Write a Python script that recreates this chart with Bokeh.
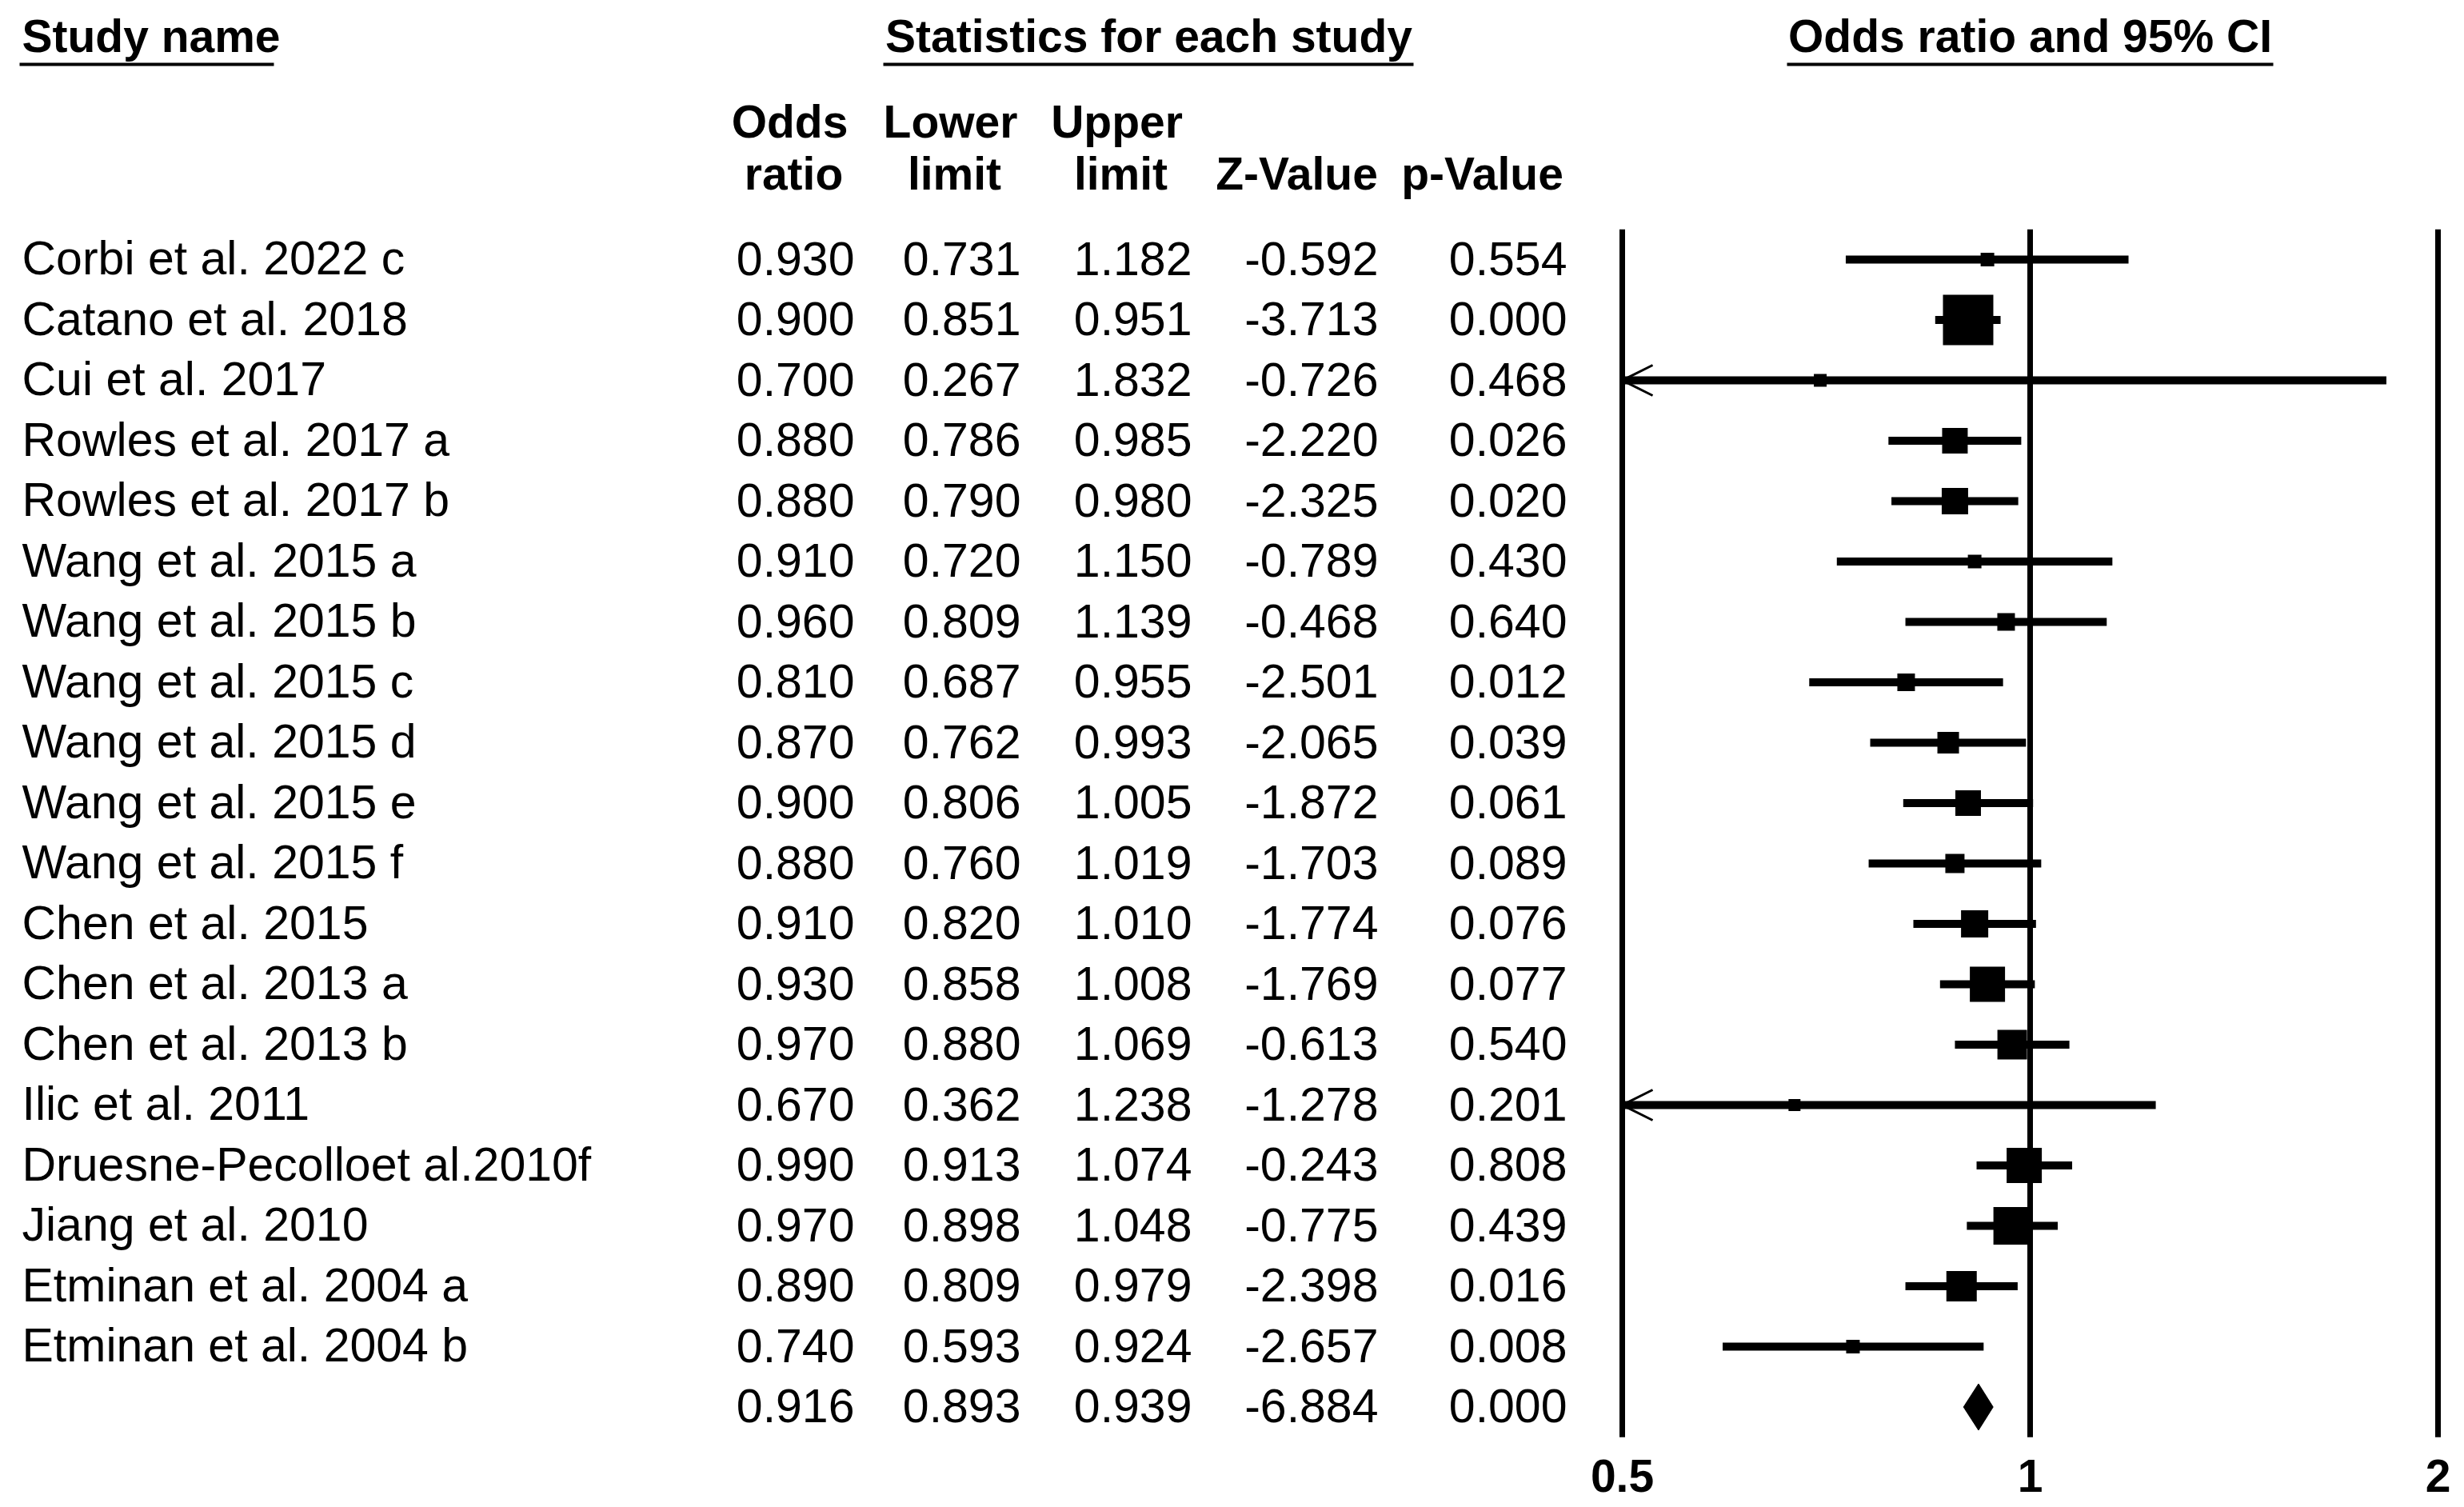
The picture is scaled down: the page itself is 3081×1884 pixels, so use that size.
import math
from bokeh.plotting import figure
from bokeh.models import (Range1d, LogScale, LogAxis, FixedTicker, CustomJSTickFormatter,
                          ColumnDataSource, Arrow, OpenHead)
from bokeh.core.properties import value
from bokeh.embed import file_html
from bokeh.resources import INLINE

# ---------------- data ----------------
studies = [
    "Corbi et al. 2022 c", "Catano et al. 2018", "Cui et al. 2017",
    "Rowles et al. 2017 a", "Rowles et al. 2017 b",
    "Wang et al. 2015 a", "Wang et al. 2015 b", "Wang et al. 2015 c",
    "Wang et al. 2015 d", "Wang et al. 2015 e", "Wang et al. 2015 f",
    "Chen et al. 2015", "Chen et al. 2013 a", "Chen et al. 2013 b",
    "Ilic et al. 2011", "Druesne-Pecolloet al.2010f", "Jiang et al. 2010",
    "Etminan et al. 2004 a", "Etminan et al. 2004 b",
]
odds_ratio = [0.930, 0.900, 0.700, 0.880, 0.880, 0.910, 0.960, 0.810, 0.870, 0.900,
              0.880, 0.910, 0.930, 0.970, 0.670, 0.990, 0.970, 0.890, 0.740]
lower = [0.731, 0.851, 0.267, 0.786, 0.790, 0.720, 0.809, 0.687, 0.762, 0.806,
         0.760, 0.820, 0.858, 0.880, 0.362, 0.913, 0.898, 0.809, 0.593]
upper = [1.182, 0.951, 1.832, 0.985, 0.980, 1.150, 1.139, 0.955, 0.993, 1.005,
         1.019, 1.010, 1.008, 1.069, 1.238, 1.074, 1.048, 0.979, 0.924]
z_value = [-0.592, -3.713, -0.726, -2.220, -2.325, -0.789, -0.468, -2.501, -2.065, -1.872,
           -1.703, -1.774, -1.769, -0.613, -1.278, -0.243, -0.775, -2.398, -2.657]
p_value = [0.554, 0.000, 0.468, 0.026, 0.020, 0.430, 0.640, 0.012, 0.039, 0.061,
           0.089, 0.076, 0.077, 0.540, 0.201, 0.808, 0.439, 0.016, 0.008]
# relative weight (%)
weight_pct = [1.39, 19.11, 1.23, 4.93, 5.24, 1.39, 2.33, 2.33, 3.51, 4.93,
              2.77, 5.57, 9.32, 6.59, 1.08, 9.32, 10.64, 6.95, 1.39]
summary_or, summary_lower, summary_upper = 0.916, 0.893, 0.939
summary_z, summary_p = -6.884, 0.000
axis_ticks = [0.5, 1, 2]

# ---------------- layout ----------------
W, H = 3073, 1876
BOTTOM_BORDER = 76
ROW0_PX, ROW_PX = 324.0, 75.5          # screen position of row 0 and row pitch
FRAME_TOP_PX = 0
FRAME_BOT_PX = H - BOTTOM_BORDER
X_HALF_PX, X_TWO_PX = 2028.0, 3048.0   # where 0.5 and 2 sit
PX_PER_LOG2 = (X_TWO_PX - X_HALF_PX) / 2.0

def ry(px):
    return (px - ROW0_PX) / ROW_PX

FONT = value("Liberation Sans")
REG = "59px"
BOLD = "57px"
TXT_OFF = -1.5 / ROW_PX

n = len(studies)
rows = list(range(n))
sum_row = n

or_start = 2 ** (math.log2(0.5) + (0 - X_HALF_PX) / PX_PER_LOG2)
or_end = 2 ** (math.log2(2.0) + (W - X_TWO_PX) / PX_PER_LOG2)

p = figure(width=W, height=H, output_backend="svg", toolbar_location=None,
           x_range=Range1d(0, W),
           y_range=Range1d(ry(FRAME_BOT_PX), ry(FRAME_TOP_PX)),
           x_axis_location=None, y_axis_location=None,
           min_border_left=0, min_border_right=0, min_border_top=0,
           min_border_bottom=BOTTOM_BORDER)
p.extra_x_ranges = {"or": Range1d(or_start, or_end)}
p.extra_x_scales = {"or": LogScale()}
p.grid.visible = False
p.outline_line_color = None
p.background_fill_color = "white"
p.border_fill_color = "white"

# ---------------- headers ----------------
hdr = dict(text_font=FONT, text_font_size=BOLD, text_font_style="bold",
           text_color="black", text_baseline="alphabetic")
p.text(x=[27], y=[ry(46) + TXT_OFF], text=["Study name"], text_align="left", **hdr)
p.text(x=[1436], y=[ry(46) + TXT_OFF], text=["Statistics for each study"],
       text_align="center", **hdr)
p.text(x=[1], y=[ry(46) + TXT_OFF], text=["Odds ratio and 95% CI"], text_align="center",
       x_range_name="or", **hdr)
p.segment(x0=[24, 1104, 2234], x1=[342, 1767, 2842], y0=[ry(80)] * 3, y1=[ry(80)] * 3,
          line_color="black", line_width=4)

col_right = [1068, 1276, 1490, 1723, 1959]
col_center = [987, 1188, 1396, 1621, 1853]
p.text(x=col_center[:3], y=[ry(153) + TXT_OFF] * 3, text=["Odds", "Lower", "Upper"],
       text_align="center", **hdr)
p.text(x=[col_center[0] + 5, col_center[1] + 5, col_center[2] + 5, col_center[3], col_center[4]],
       y=[ry(218) + TXT_OFF] * 5, text=["ratio", "limit", "limit", "Z-Value", "p-Value"],
       text_align="center", **hdr)

# ---------------- table body ----------------
reg = dict(text_font=FONT, text_font_size=REG, text_color="black", text_baseline="alphabetic")
p.text(x=[27] * n, y=[r + TXT_OFF for r in rows], text=studies, text_align="left", **reg)

all_rows = rows + [sum_row]
columns = [odds_ratio + [summary_or], lower + [summary_lower], upper + [summary_upper],
           z_value + [summary_z], p_value + [summary_p]]
for xr, vals in zip(col_right, columns):
    p.text(x=[xr] * len(all_rows), y=[r + TXT_OFF for r in all_rows],
           text=["%.3f" % v for v in vals], text_align="right", **reg)

# ---------------- forest plot ----------------
xmin = axis_ticks[0]
p.segment(x0=axis_ticks, x1=axis_ticks, y0=[-0.5] * 3, y1=[sum_row + 0.5] * 3,
          line_color="black", line_width=7, x_range_name="or")

lo_clip = [max(l, xmin) for l in lower]
p.segment(x0=lo_clip, x1=upper, y0=rows, y1=rows, line_color="black", line_width=10,
          line_cap="butt", x_range_name="or")

sizes = [14.41 * math.sqrt(w) for w in weight_pct]
p.scatter(x=odds_ratio, y=rows, size=sizes, marker="square", fill_color="black",
          line_color=None, x_range_name="or")

clipped = [i for i in rows if lower[i] < xmin]
arr_src = ColumnDataSource(dict(xs=[odds_ratio[i] for i in clipped],
                                xe=[xmin] * len(clipped),
                                y=[rows[i] for i in clipped]))
p.add_layout(Arrow(end=OpenHead(size=38, line_width=3, line_color="black"),
                   x_start="xs", y_start="y", x_end="xe", y_end="y", source=arr_src,
                   line_alpha=0, line_width=1, x_range_name="or"))

dh = 29 / ROW_PX
p.patch(x=[summary_lower, summary_or, summary_upper, summary_or],
        y=[sum_row, sum_row - dh, sum_row, sum_row + dh],
        fill_color="black", line_color="black", line_width=1, x_range_name="or")

# ---------------- axis ----------------
ax = LogAxis(x_range_name="or", ticker=FixedTicker(ticks=axis_ticks, minor_ticks=[]),
             formatter=CustomJSTickFormatter(code="return tick.toString()"))
ax.axis_line_color = None
ax.major_tick_line_color = None
ax.minor_tick_line_color = None
ax.major_tick_out = 0
ax.major_tick_in = 0
ax.major_label_standoff = 24
ax.major_label_text_font = "Liberation Sans"
ax.major_label_text_font_size = BOLD
ax.major_label_text_font_style = "bold"
ax.major_label_text_color = "black"
p.add_layout(ax, "below")

open("out.html", "w").write(file_html(p, INLINE))
